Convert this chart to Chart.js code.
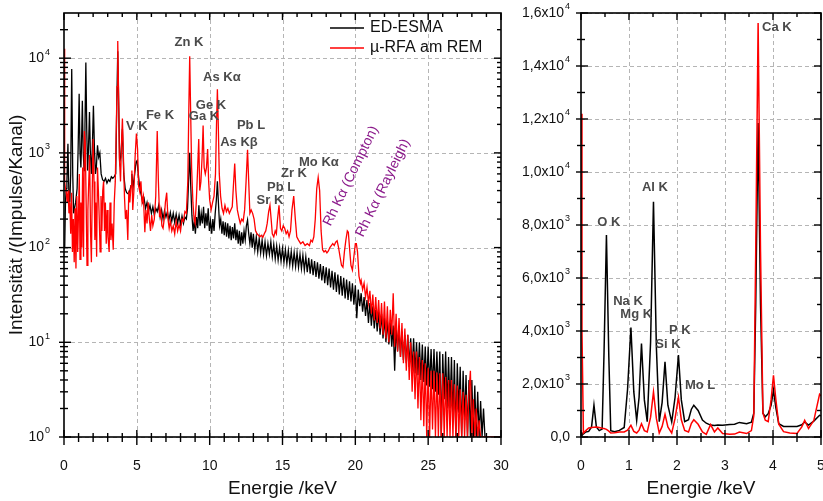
<!DOCTYPE html>
<html>
<head>
<meta charset="utf-8">
<script src="https://cdn.jsdelivr.net/npm/chart.js@4.4.0/dist/chart.umd.min.js"></script>
<style>
  html, body { margin: 0; padding: 0; background: #fff; }
  #wrap { position: relative; width: 823px; height: 501px; overflow: hidden; }
  #full { position: absolute; left: 0; top: 0; }
  #zoom { position: absolute; left: 515px; top: 0; }
</style>
</head>
<body>
<div id="wrap">
  <canvas id="full" width="515" height="501" style="width:515px;height:501px"></canvas>
  <canvas id="zoom" width="308" height="501" style="width:308px;height:501px"></canvas>
</div>
<script>
// ---- full spectrum, 0-30 keV (log scale) ----
const fullEnergyEsma = [
  0.05,0.10,0.15,0.20,0.27,0.33,0.40,0.46,0.53,0.60,
  0.66,0.72,0.80,0.90,0.97,1.04,1.10,1.16,1.20,1.26,
  1.32,1.38,1.44,1.50,1.56,1.62,1.68,1.75,1.81,1.88,
  1.95,2.02,2.09,2.16,2.22,2.30,2.38,2.46,2.55,2.65,
  2.75,2.85,2.95,3.05,3.15,3.25,3.35,3.45,3.55,3.62,
  3.69,3.76,3.82,3.90,4.01,4.10,4.20,4.30,4.40,4.50,
  4.60,4.66,4.74,4.85,4.95,5.02,5.10,5.20,5.30,5.40,
  5.50,5.60,5.70,5.80,5.90,6.00,6.10,6.20,6.30,6.40,
  6.50,6.60,6.70,6.80,6.90,7.00,7.10,7.20,7.30,7.40,
  7.50,7.60,7.70,7.80,7.90,8.00,8.10,8.20,8.30,8.40,
  8.48,8.55,8.63,8.70,8.78,8.86,8.94,9.02,9.10,9.18,
  9.26,9.34,9.42,9.50,9.58,9.66,9.74,9.82,9.90,9.98,
  10.06,10.14,10.22,10.30,10.38,10.46,10.53,10.60,10.68,10.76,
  10.84,10.92,11.00,11.08,11.16,11.24,11.32,11.40,11.48,11.56,
  11.64,11.72,11.80,11.88,11.96,12.04,12.12,12.20,12.28,12.36,
  12.44,12.52,12.60,12.68,12.76,12.84,12.92,13.00,13.10,13.20,
  13.30,13.40,13.50,13.60,13.70,13.80,13.90,14.00,14.10,14.20,
  14.30,14.40,14.50,14.60,14.70,14.80,14.90,15.00,15.10,15.20,
  15.30,15.40,15.50,15.60,15.70,15.80,15.90,16.00,16.10,16.20,
  16.30,16.40,16.50,16.60,16.70,16.80,16.90,17.00,17.10,17.20,
  17.30,17.40,17.50,17.60,17.70,17.80,17.90,18.00,18.10,18.20,
  18.30,18.40,18.50,18.60,18.70,18.80,18.90,19.00,19.10,19.20,
  19.30,19.40,19.50,19.60,19.70,19.80,19.90,20.00,20.10,20.20,
  20.30,20.40,20.50,20.60,20.70,20.80,20.90,21.00,21.10,21.20,
  21.30,21.40,21.50,21.60,21.70,21.80,21.90,22.00,22.10,22.20,
  22.30,22.40,22.50,22.60,22.70,22.80,22.90,23.00,23.10,23.20,
  23.30,23.40,23.50,23.60,23.70,23.80,23.90,24.00,24.10,24.20,
  24.30,24.40,24.50,24.60,24.70,24.80,24.90,25.00,25.10,25.20,
  25.30,25.40,25.50,25.60,25.70,25.80,25.90,26.00,26.10,26.20,
  26.30,26.40,26.50,26.60,26.70,26.80,26.90,27.00,27.10,27.20,
  27.30,27.40,27.50,27.60,27.70,27.80,27.90,28.00,28.10,28.20,
  28.30,28.40,28.50,28.60,28.70,28.80,28.90,29.00
];
const fullCountsEsma = [
  100,300,420,500,1250,400,300,600,7700,600,
  230,260,300,420,1100,4200,1000,700,1200,3550,
  1000,650,2000,9000,1800,650,1100,2700,1000,600,
  1200,3150,1100,600,700,1200,900,1000,600,520,
  500,540,480,520,500,560,540,560,600,3000,
  11800,3000,800,900,1800,600,420,380,370,390,
  450,600,430,600,800,830,600,420,360,300,
  330,260,300,240,280,230,270,220,260,240,
  280,210,250,200,245,210,240,195,235,190,
  230,185,225,180,220,175,215,180,210,200,
  260,500,1000,450,220,150,190,140,210,160,
  280,170,230,180,270,160,230,170,260,150,
  190,140,200,150,230,320,500,300,170,200,
  140,190,135,185,130,180,125,170,120,165,
  125,180,120,155,110,150,105,145,110,150,
  120,170,195,140,110,145,100,140,95,130,
  90,125,88,120,85,115,82,110,85,115,
  80,108,76,104,74,100,72,98,70,95,
  68,93,66,91,64,89,63,88,62,85,
  60,83,58,80,55,78,53,75,51,72,
  49,70,47,67,45,64,42,62,40,60,
  38,57,36,55,34,52,32,50,31,48,
  29,46,28,44,27,42,25,40,18,36,
  24,33,21,30,19,28,16,26,15,24,
  14,22,13,21,12,20,11,18,10,17,
  9.5,16,9,15,5,15,8,14,7,13,
  6.5,12,6,12,5.5,11,5,11,4.7,10,
  4.5,10,4,9.5,3.8,9,3.5,9,3.4,8.5,
  3.2,8.5,3,8,2.8,8,1,7.5,2.5,8,
  2,7,2,7,1.5,6.5,1,6,1.8,5.5,
  1,5,1.5,4.5,1,4,1,4,1,3.5,
  1,3,1,2.4,1,2,1,1
];
const fullEnergyRfa = [
  0.00,0.03,0.06,0.10,0.16,0.22,0.28,0.34,0.40,0.46,
  0.52,0.58,0.64,0.70,0.76,0.82,0.88,0.94,1.00,1.05,
  1.10,1.16,1.22,1.28,1.34,1.40,1.46,1.52,1.58,1.64,
  1.70,1.76,1.82,1.88,1.94,2.00,2.06,2.12,2.18,2.24,
  2.30,2.36,2.42,2.48,2.54,2.60,2.66,2.72,2.78,2.84,
  2.90,2.96,3.02,3.10,3.16,3.22,3.30,3.38,3.45,3.52,
  3.58,3.64,3.69,3.74,3.80,3.88,3.95,4.01,4.08,4.15,
  4.22,4.30,4.38,4.45,4.52,4.60,4.66,4.72,4.80,4.88,
  4.97,5.05,5.12,5.20,5.28,5.36,5.45,5.55,5.62,5.70,
  5.78,5.86,5.94,6.02,6.10,6.20,6.30,6.40,6.48,6.56,
  6.64,6.72,6.80,6.88,6.96,7.05,7.14,7.22,7.30,7.40,
  7.50,7.60,7.70,7.80,7.90,8.00,8.10,8.20,8.30,8.40,
  8.50,8.57,8.63,8.69,8.76,8.85,8.93,9.00,9.08,9.16,
  9.25,9.32,9.40,9.48,9.55,9.62,9.70,9.78,9.86,9.93,
  10.00,10.10,10.20,10.30,10.40,10.47,10.53,10.59,10.66,10.75,
  10.85,10.95,11.05,11.15,11.25,11.35,11.45,11.55,11.63,11.72,
  11.80,11.90,12.00,12.10,12.20,12.30,12.40,12.50,12.60,12.68,
  12.76,12.85,12.95,13.05,13.15,13.25,13.35,13.45,13.55,13.65,
  13.75,13.85,13.95,14.05,14.14,14.22,14.30,14.40,14.50,14.58,
  14.66,14.76,14.86,14.95,15.05,15.15,15.25,15.35,15.45,15.55,
  15.65,15.77,15.88,15.98,16.10,16.25,16.40,16.55,16.70,16.85,
  16.95,17.05,17.15,17.25,17.35,17.45,17.55,17.65,17.75,17.85,
  17.95,18.05,18.15,18.25,18.35,18.45,18.55,18.65,18.75,18.85,
  18.95,19.05,19.15,19.25,19.35,19.45,19.52,19.60,19.70,19.80,
  19.90,20.00,20.07,20.15,20.25,20.35,20.40,20.50,20.60,20.70,
  20.80,20.90,21.00,21.10,21.20,21.30,21.40,21.50,21.60,21.70,
  21.80,21.90,22.00,22.10,22.20,22.30,22.40,22.50,22.60,22.70,
  22.80,22.90,23.00,23.10,23.20,23.30,23.40,23.50,23.60,23.70,
  23.80,23.90,24.00,24.10,24.20,24.30,24.40,24.50,24.60,24.70,
  24.80,24.90,25.00,25.10,25.20,25.30,25.40,25.50,25.60,25.70,
  25.80,25.90,26.00,26.10,26.20,26.30,26.40,26.50,26.60,26.70,
  26.80,26.90,27.00,27.10,27.20,27.30,27.40,27.50,27.60,27.70,
  27.80,27.90,28.00,28.10,28.20,28.30,28.40,28.50,28.60,30.00
];
const fullCountsRfa = [
  12600,3000,500,420,380,300,400,230,300,140,
  380,90,200,70,260,60,350,90,250,600,
  75,300,100,700,80,1700,1300,300,65,250,
  500,950,150,70,400,1400,500,120,300,80,
  700,400,200,90,350,150,400,500,150,300,
  110,250,130,90,300,120,180,95,300,500,
  1500,5000,15200,5000,900,500,1300,2300,900,350,
  200,250,120,400,300,450,650,250,400,900,
  1600,1100,450,390,500,300,350,145,250,180,
  300,200,150,220,170,200,350,1700,500,210,
  250,170,160,200,300,380,200,160,190,150,
  170,140,190,150,175,150,200,190,240,230,
  500,3000,10500,3000,700,300,200,180,300,600,
  1400,400,500,900,1950,700,600,700,1100,500,
  320,250,300,350,600,2000,4700,2000,600,350,
  260,230,280,240,260,230,250,270,450,770,
  400,250,210,180,200,190,250,500,1080,500,
  230,250,230,200,150,140,135,130,135,128,
  140,150,180,240,280,200,140,130,150,140,
  200,280,160,150,170,160,140,150,130,150,
  250,350,200,130,120,110,115,105,110,105,
  120,115,130,200,420,550,400,150,95,90,
  93,88,92,100,105,110,105,114,118,100,
  80,65,62,90,120,150,145,100,65,58,
  80,110,110,90,50,42,45,36,42,30,
  38,26,35,20,32,17,30,16,28,14,
  26,12,27,11,24,10,22,12,33,9,
  20,8,18,7,16,6,14,5,12,4,
  10,3,8,2.5,8,2,7,1.5,6.5,1.3,
  6,1,5.4,1,5,1.2,5,1,4.8,1,
  4.7,1,4.7,1,4.3,1,4,1,4,1,
  3.6,1,3.5,1,3.2,1,3,1,2.8,1,
  3,5,1,2.5,1,2,1,1.5,1,1
];
const fullTicksY = [1, 10, 100, 1000, 10000];

// ---- low-energy detail, 0-5 keV (linear scale) ----
const zoomEnergy = [
  0.00,0.02,0.05,0.10,0.16,0.22,0.27,0.32,0.38,0.44,
  0.48,0.53,0.58,0.62,0.70,0.80,0.90,0.97,1.04,1.10,
  1.16,1.21,1.26,1.32,1.38,1.45,1.51,1.57,1.63,1.69,
  1.75,1.81,1.89,1.96,2.03,2.09,2.16,2.24,2.30,2.35,
  2.44,2.53,2.61,2.70,2.78,2.85,2.95,3.10,3.20,3.30,
  3.45,3.55,3.60,3.64,3.69,3.74,3.79,3.84,3.90,3.96,
  4.01,4.06,4.12,4.22,4.35,4.50,4.60,4.66,4.74,4.85,
  4.97,5.00
];
const zoomCountsEsma = [
  180,60,120,190,210,380,1200,380,240,300,
  3200,7620,3000,240,200,250,360,1800,4130,1700,
  630,1500,3530,1400,580,3600,8880,3400,580,1300,
  2835,1200,570,1500,3090,1400,580,650,1050,1200,
  1000,640,520,450,430,450,440,470,480,550,
  500,560,900,5000,11845,5000,900,760,880,1200,
  1765,1100,500,400,400,400,460,570,450,600,
  820,800
];
const zoomCountsRfa = [
  12200,4000,150,240,340,360,370,380,360,330,
  320,290,220,150,160,190,190,260,440,210,
  150,260,500,240,190,750,1700,700,150,400,
  860,380,150,700,1500,650,250,190,520,650,
  480,190,100,470,190,340,130,100,110,190,
  130,240,800,7000,15620,7000,900,630,580,1400,
  2330,1400,480,200,150,130,380,630,320,620,
  1610,1550
];
const zoomTicksY = [0, 2000, 4000, 6000, 8000, 10000, 12000, 14000, 16000];

// peak labels: text, energy, intensity where the label sits
const fullPeakLabels = [
  ['Zn K', 8.58, 14800], ['As K\u03b1', 10.84, 6300], ['Ge K', 10.09, 3200],
  ['Ga K', 9.61, 2400], ['Fe K', 6.59, 2500], ['V K', 5.0, 1920],
  ['Pb L', 12.84, 1970], ['As K\u03b2', 12.01, 1300], ['Pb L', 14.9, 436],
  ['Sr K', 14.14, 318], ['Zr K', 15.79, 614], ['Mo K\u03b1', 17.5, 802]
];
const fullScatterLabels = [
  ['Rh K\u03b1 (Compton)', 19.7, 570], ['Rh K\u03b1 (Rayleigh)', 21.9, 426]
];
const zoomPeakLabels = [
  ['Ca K', 4.08, 15470], ['Al K', 1.54, 9430], ['O K', 0.58, 8110],
  ['Na K', 0.98, 5130], ['Mg K', 1.15, 4640], ['P K', 2.06, 4040],
  ['Si K', 1.81, 3510], ['Mo L', 2.48, 1960]
];

const FONT = "'Liberation Sans', Arial, sans-serif";

function toPoints(xs, ys) {
  return xs.map((e, i) => ({ x: e, y: ys[i] }));
}

// label with a raised exponent, right-aligned at xRight
function drawSupLabel(ctx, base, exp, xRight, yMid) {
  ctx.font = '14px ' + FONT;
  const wBase = ctx.measureText(base).width;
  ctx.font = '9px ' + FONT;
  const wExp = exp ? ctx.measureText(exp).width + 1 : 0;
  const x0 = xRight - wBase - wExp;
  ctx.textAlign = 'left';
  ctx.textBaseline = 'middle';
  ctx.font = '14px ' + FONT;
  ctx.fillText(base, x0, yMid);
  if (exp) {
    ctx.font = '9px ' + FONT;
    ctx.fillText(exp, x0 + wBase + 1, yMid - 6);
  }
}

// grid, boxed frame with crossing ticks, y labels and annotations
function frameDecor(cfg) {
  return {
    id: 'frameDecor',
    beforeDatasetsDraw(chart) {
      const { ctx, chartArea: a, scales: { x, y } } = chart;
      ctx.save();
      ctx.strokeStyle = '#b5b5b5';
      ctx.lineWidth = 1;
      ctx.setLineDash([4, 3]);
      cfg.gridX.forEach(v => {
        const px = Math.round(x.getPixelForValue(v)) + 0.5;
        ctx.beginPath(); ctx.moveTo(px, a.top); ctx.lineTo(px, a.bottom); ctx.stroke();
      });
      cfg.gridY.forEach(v => {
        const py = Math.round(y.getPixelForValue(v)) + 0.5;
        ctx.beginPath(); ctx.moveTo(a.left, py); ctx.lineTo(a.right, py); ctx.stroke();
      });
      ctx.restore();
    },
    afterDraw(chart) {
      const { ctx, chartArea: a, scales: { x, y } } = chart;
      ctx.save();
      ctx.strokeStyle = '#000';
      ctx.lineWidth = 1.6;
      ctx.strokeRect(a.left, a.top, a.right - a.left, a.bottom - a.top);

      const seg = (x1, y1, x2, y2) => {
        ctx.beginPath(); ctx.moveTo(x1, y1); ctx.lineTo(x2, y2); ctx.stroke();
      };
      ctx.lineWidth = 1.4;
      cfg.majorX.forEach(v => {
        const px = x.getPixelForValue(v);
        seg(px, a.bottom - 7, px, a.bottom + 8);
        seg(px, a.top, px, a.top + 7);
      });
      cfg.minorX.forEach(v => {
        const px = x.getPixelForValue(v);
        seg(px, a.bottom - 4, px, a.bottom + 5);
        seg(px, a.top, px, a.top + 4);
      });
      cfg.gridY.forEach(v => {
        const py = y.getPixelForValue(v);
        seg(a.left - 5, py, a.left + 7, py);
        seg(a.right - 7, py, a.right, py);
      });
      cfg.minorY.forEach(v => {
        const py = y.getPixelForValue(v);
        seg(a.left - 4, py, a.left + 4, py);
        seg(a.right - 4, py, a.right, py);
      });

      // y tick labels
      ctx.fillStyle = '#111';
      cfg.gridY.forEach(v => {
        const [base, exp] = cfg.yLabel(v);
        drawSupLabel(ctx, base, exp, a.left - cfg.yLabelGap, y.getPixelForValue(v));
      });

      // axis titles
      ctx.font = '19px ' + FONT;
      ctx.textAlign = 'center';
      ctx.textBaseline = 'middle';
      ctx.fillText('Energie /keV', (a.left + a.right) / 2, 489);
      if (cfg.yTitle) {
        ctx.save();
        ctx.translate(17, (a.top + a.bottom) / 2);
        ctx.rotate(-Math.PI / 2);
        ctx.fillText(cfg.yTitle, 0, 0);
        ctx.restore();
      }

      // peak annotations
      ctx.font = 'bold 13px ' + FONT;
      ctx.fillStyle = '#4a4a4a';
      cfg.peaks.forEach(([t, e, c]) => {
        ctx.fillText(t, x.getPixelForValue(e), y.getPixelForValue(c));
      });
      ctx.font = '14px ' + FONT;
      ctx.fillStyle = '#8b1a8b';
      (cfg.scatter || []).forEach(([t, e, c]) => {
        ctx.save();
        ctx.translate(x.getPixelForValue(e), y.getPixelForValue(c));
        ctx.rotate(-64 * Math.PI / 180);
        ctx.fillText(t, 0, 0);
        ctx.restore();
      });

      // legend
      if (cfg.legend) {
        ctx.font = '16px ' + FONT;
        ctx.textAlign = 'left';
        ctx.fillStyle = '#111';
        ctx.lineWidth = 1.6;
        chart.data.datasets.slice().reverse().forEach((ds, i) => {
          const ly = 28 + i * 20;
          ctx.strokeStyle = ds.borderColor;
          seg(330, ly, 364, ly);
          ctx.fillText(ds.label, 370, ly);
        });
      }
      ctx.restore();
    }
  };
}

const majorFullX = [0, 5, 10, 15, 20, 25, 30];
const minorFullX = [];
for (let e = 1; e < 30; e++) if (e % 5) minorFullX.push(e);
const minorFullY = [];
for (let d = 1; d <= 10000; d *= 10)
  for (let m = 2; m <= 9; m++) if (d * m < 30000) minorFullY.push(d * m);

new Chart(document.getElementById('full'), {
  type: 'line',
  data: {
    datasets: [
      { label: '\u00b5-RFA am REM', data: toPoints(fullEnergyRfa, fullCountsRfa),
        borderColor: '#ff0000', borderWidth: 1.3, pointRadius: 0, order: 0 },
      { label: 'ED-ESMA', data: toPoints(fullEnergyEsma, fullCountsEsma),
        borderColor: '#000000', borderWidth: 1.3, pointRadius: 0, order: 1 }
    ]
  },
  options: {
    responsive: false,
    animation: false,
    devicePixelRatio: 1,
    layout: { padding: { top: 13, right: 14, left: 0, bottom: 0 } },
    plugins: { legend: { display: false }, tooltip: { enabled: false } },
    scales: {
      x: {
        type: 'linear', min: 0, max: 30,
        grid: { display: false }, border: { display: false },
        ticks: { stepSize: 5, color: '#111', padding: 13, maxRotation: 0,
                 font: { family: FONT, size: 14 } },
        afterFit: s => { s.height = 64; s.paddingLeft = 0; s.paddingRight = 0; }
      },
      y: {
        type: 'logarithmic', min: 1, max: 30000,
        grid: { display: false }, border: { display: false },
        ticks: { display: false },
        afterBuildTicks: s => { s.ticks = fullTicksY.map(v => ({ value: v })); },
        afterFit: s => { s.width = 64; s.paddingTop = 0; s.paddingBottom = 0; }
      }
    }
  },
  plugins: [frameDecor({
    gridX: [5, 10, 15, 20, 25], gridY: fullTicksY,
    majorX: majorFullX, minorX: minorFullX, minorY: minorFullY,
    yLabel: v => ['10', String(Math.round(Math.log10(v)))],
    yLabelGap: 14,
    yTitle: 'Intensit\u00e4t /(Impulse/Kanal)',
    peaks: fullPeakLabels, scatter: fullScatterLabels, legend: true
  })]
});

const minorZoomX = [0.5, 1.5, 2.5, 3.5, 4.5];
const minorZoomY = [1000, 3000, 5000, 7000, 9000, 11000, 13000, 15000];

new Chart(document.getElementById('zoom'), {
  type: 'line',
  data: {
    datasets: [
      { label: '\u00b5-RFA am REM', data: toPoints(zoomEnergy, zoomCountsRfa),
        borderColor: '#ff0000', borderWidth: 1.5, pointRadius: 0, order: 0 },
      { label: 'ED-ESMA', data: toPoints(zoomEnergy, zoomCountsEsma),
        borderColor: '#000000', borderWidth: 1.5, pointRadius: 0, order: 1 }
    ]
  },
  options: {
    responsive: false,
    animation: false,
    devicePixelRatio: 1,
    layout: { padding: { top: 13, right: 2, left: 0, bottom: 0 } },
    plugins: { legend: { display: false }, tooltip: { enabled: false } },
    scales: {
      x: {
        type: 'linear', min: 0, max: 5,
        grid: { display: false }, border: { display: false },
        ticks: { stepSize: 1, color: '#111', padding: 13, maxRotation: 0,
                 font: { family: FONT, size: 14 } },
        afterFit: s => { s.height = 64; s.paddingLeft = 0; s.paddingRight = 0; }
      },
      y: {
        type: 'linear', min: 0, max: 16000,
        grid: { display: false }, border: { display: false },
        ticks: { display: false },
        afterBuildTicks: s => { s.ticks = zoomTicksY.map(v => ({ value: v })); },
        afterFit: s => { s.width = 66; s.paddingTop = 0; s.paddingBottom = 0; }
      }
    }
  },
  plugins: [frameDecor({
    gridX: [1, 2, 3, 4], gridY: zoomTicksY,
    majorX: [0, 1, 2, 3, 4, 5], minorX: minorZoomX, minorY: minorZoomY,
    yLabel: v => {
      if (v === 0) return ['0,0', ''];
      const p = Math.floor(Math.log10(v));
      return [(v / Math.pow(10, p)).toFixed(1).replace('.', ',') + 'x10', String(p)];
    },
    yLabelGap: 11,
    peaks: zoomPeakLabels
  })]
});
</script>
</body>
</html>
